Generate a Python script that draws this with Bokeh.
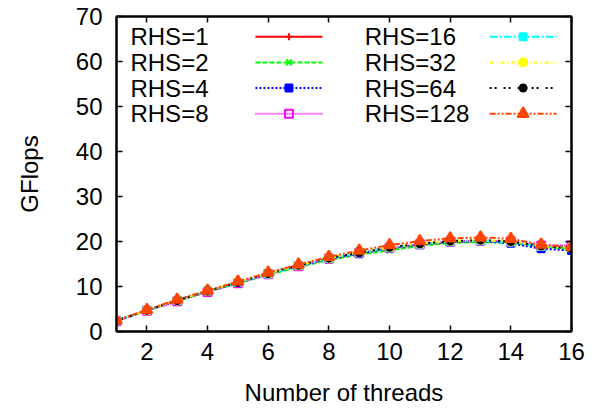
from bokeh.plotting import figure
from bokeh.models import Range1d, FixedTicker, LinearAxis, CustomJSTickFormatter
from bokeh.core.properties import value
from bokeh.embed import file_html
from bokeh.resources import INLINE

threads = list(range(1, 17))
rhs1   = [2.4, 4.7, 6.9, 8.9, 10.9, 12.8, 14.6, 16.2, 17.4, 18.5, 19.3, 19.9, 20.1, 19.8, 18.9, 18.5]
rhs2   = [2.4, 4.6, 6.8, 8.8, 10.7, 12.6, 14.3, 15.9, 17.1, 18.0, 19.0, 19.7, 19.9, 19.7, 18.8, 18.4]
rhs4   = [2.4, 4.7, 6.9, 9.0, 10.9, 12.9, 14.6, 16.1, 17.3, 18.5, 19.3, 19.9, 20.1, 19.6, 18.4, 18.0]
rhs8   = [2.3, 4.6, 6.7, 8.8, 10.7, 12.7, 14.5, 16.2, 17.5, 18.6, 19.4, 20.0, 20.2, 20.0, 19.1, 19.1]
rhs16  = [2.4, 4.7, 6.9, 9.0, 10.9, 12.8, 14.6, 16.2, 17.5, 18.6, 19.4, 20.0, 20.2, 19.9, 18.9, 18.6]
rhs32  = [2.4, 4.7, 6.9, 9.0, 11.0, 12.9, 14.7, 16.3, 17.6, 18.7, 19.5, 20.1, 20.3, 20.0, 19.0, 18.6]
rhs64  = [2.4, 4.7, 6.9, 9.0, 10.9, 12.9, 14.7, 16.3, 17.5, 18.7, 19.5, 20.1, 20.3, 20.0, 19.0, 18.5]
rhs128 = [2.5, 4.8, 7.1, 9.1, 11.1, 13.1, 14.9, 16.6, 18.0, 19.2, 20.1, 20.7, 20.9, 20.6, 19.3, 18.8]

labels  = ["RHS=1", "RHS=2", "RHS=4", "RHS=8", "RHS=16", "RHS=32", "RHS=64", "RHS=128"]
series  = [rhs1, rhs2, rhs4, rhs8, rhs16, rhs32, rhs64, rhs128]
colors  = ["#ff0000", "#00ff00", "#0000ff", "#ff00ff", "#00ffff", "#ffff00", "#000000", "#ff4500"]
dashes  = ["solid", "5 2", "2 2", "1 1", "8 2 2 2", "4 3 1 3", "2 3 2 7", "6 2 2 2 2 2"]
markers = ["cross", "x", "square", "square", "square", "circle", "circle", "triangle"]
mfill   = [True, True, True, False, True, True, True, True]
msize   = [7, 8, 7, 8, 7, 8, 7, 11]

xticks = [2, 4, 6, 8, 10, 12, 14, 16]
yticks = [0, 10, 20, 30, 40, 50, 60, 70]

FONT = "Liberation Sans"
FS = "24px"

p = figure(width=594, height=410, output_backend="svg", toolbar_location=None,
           x_range=Range1d(1, 16), y_range=Range1d(0, 70),
           min_border_left=116, min_border_right=23, min_border_top=16, min_border_bottom=79)
p.background_fill_color = "white"
p.border_fill_color = "white"
p.xgrid.visible = False
p.ygrid.visible = False
p.outline_line_color = "black"
p.outline_line_width = 2

for ax in (p.xaxis[0], p.yaxis[0]):
    ax.major_tick_in = 6
    ax.major_tick_out = 0
    ax.minor_tick_in = 0
    ax.minor_tick_out = 0
    ax.axis_line_color = "black"
    ax.axis_line_width = 2
    ax.major_tick_line_width = 1.5
    ax.major_label_text_font = FONT
    ax.major_label_text_font_size = FS
    ax.major_label_text_color = "black"
    ax.axis_label_text_font = FONT
    ax.axis_label_text_font_size = FS
    ax.axis_label_text_font_style = "normal"
    ax.axis_label_text_color = "black"

p.xaxis[0].ticker = FixedTicker(ticks=xticks)
p.yaxis[0].ticker = FixedTicker(ticks=yticks)
p.xaxis[0].axis_label = "Number of threads"
p.yaxis[0].axis_label = "GFlops"
p.xaxis[0].major_label_standoff = 11
p.yaxis[0].major_label_standoff = 14
p.xaxis[0].axis_label_standoff = 16
p.yaxis[0].axis_label_standoff = 30

top = LinearAxis(ticker=FixedTicker(ticks=xticks))
right = LinearAxis(ticker=FixedTicker(ticks=yticks))
for ax in (top, right):
    ax.major_tick_in = 6
    ax.major_tick_out = 0
    ax.minor_tick_in = 0
    ax.minor_tick_out = 0
    ax.major_tick_line_width = 1.5
    ax.axis_line_width = 2
    ax.formatter = CustomJSTickFormatter(code="return ''")
    ax.major_label_standoff = 0
p.add_layout(top, "above")
p.add_layout(right, "right")

for lab, ys, c, d, m, f, s in zip(labels, series, colors, dashes, markers, mfill, msize):
    p.line(threads, ys, line_color=c, line_width=2, line_dash=d)
    p.scatter(threads, ys, marker=m, size=s, line_color=c, line_width=2,
              fill_color=c if f else None)

# legend (layout positions in data space)
leg_text_x = [1.46, 9.18]
leg_line_x = [(5.58, 7.79), (13.30, 15.51)]
leg_rows_y = [65.5, 59.8, 54.1, 48.4]
for i, (lab, c, d, m, f, s) in enumerate(zip(labels, colors, dashes, markers, mfill, msize)):
    col, row = divmod(i, 4)
    yy = leg_rows_y[row]
    p.text(x=[leg_text_x[col]], y=[yy], text=[lab], text_font=value(FONT),
           text_font_size=FS, text_baseline="middle", text_align="left", text_color="black")
    x0, x1 = leg_line_x[col]
    p.line([x0, x1], [yy, yy], line_color=c, line_width=2, line_dash=d)
    p.scatter([(x0 + x1) / 2], [yy], marker=m, size=s, line_color=c, line_width=2,
              fill_color=c if f else None)

open("out.html", "w").write(file_html(p, INLINE))
